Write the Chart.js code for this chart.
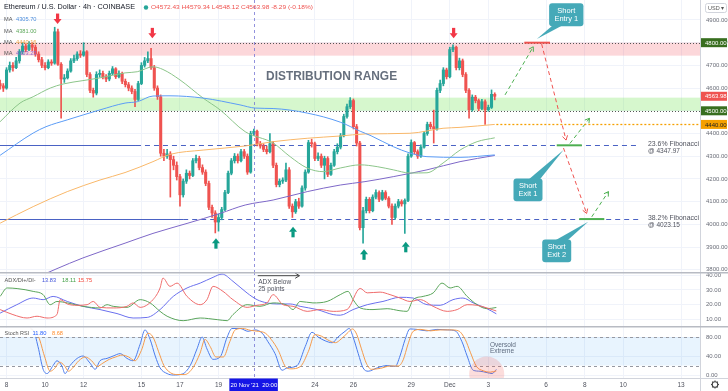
<!DOCTYPE html>
<html><head><meta charset="utf-8">
<script src="https://cdn.jsdelivr.net/npm/chart.js@4.4.1/dist/chart.umd.min.js"></script>
<style>
html,body{margin:0;padding:0;background:#fff;}
#wrap{position:relative;width:728px;height:391px;overflow:hidden;background:#fff;}
canvas{position:absolute;left:0;}
</style></head><body>
<div id="wrap">
<canvas id="c1" width="728" height="272" style="top:0"></canvas>
<canvas id="c2" width="728" height="54" style="top:272px"></canvas>
<canvas id="c3" width="728" height="65" style="top:326px"></canvas>
</div>
<script>
// ---------------- DATA ----------------
// 4h candles, index 0 = 7 Nov 16:00, last = 3 Dec 08:00
const firstOpen = 4620;
const closes = [4610,4600,4680,4700,4690,4720,4760,4785,4770,4790,
4780,4750,4725,4700,4690,4715,4710,4848,4705,4640,
4645,4675,4720,4730,4750,4745,4760,4660,4590,4578,
4660,4665,4650,4640,4665,4685,4650,4665,4630,4615,
4600,4585,4550,4620,4700,4720,4730,4690,4600,4562,
4313,4300,4310,4285,4260,4210,4130,4190,4225,4215,
4280,4290,4250,4230,4180,4075,4050,4010,4030,4065,
4140,4225,4280,4300,4280,4320,4300,4230,4400,4410,
4355,4345,4330,4320,4355,4260,4175,4190,4195,4240,
4080,4055,4100,4080,4160,4230,4360,4355,4290,4300,
4260,4290,4220,4260,4320,4340,4390,4475,4518,4545,
4430,4358,3985,4060,4110,4060,4120,4140,4110,4140,
4115,4080,4030,4080,4100,4090,4105,4300,4360,4320,
4300,4340,4400,4440,4430,4420,4590,4620,4680,4650,
4770,4780,4690,4720,4660,4590,4505,4560,4545,4510,
4540,4505,4515,4572.43,4563.98];
const highs = [4635,4620,4690,4715,4712,4735,4770,4800,4795,4805,
4800,4790,4760,4735,4712,4725,4725,4868,4860,4712,
4660,4685,4730,4745,4760,4765,4800,4765,4668,4600,
4672,4680,4675,4660,4675,4695,4690,4676,4670,4640,
4625,4610,4595,4630,4712,4735,4760,4775,4700,4610,
4570,4330,4330,4320,4300,4275,4220,4200,4240,4235,
4290,4305,4300,4262,4240,4190,4085,4060,4045,4075,
4150,4235,4290,4312,4310,4330,4330,4310,4410,4420,
4415,4365,4355,4345,4400,4365,4270,4200,4205,4270,
4250,4090,4110,4115,4170,4240,4370,4375,4362,4315,
4310,4300,4298,4270,4330,4355,4400,4485,4530,4558,
4552,4440,4365,4075,4120,4118,4130,4152,4148,4150,
4148,4122,4090,4090,4110,4108,4112,4310,4372,4365,
4328,4350,4410,4450,4450,4503,4600,4635,4690,4688,
4780,4790,4785,4732,4728,4668,4598,4570,4568,4552,
4550,4548,4525,4592,4579.34];
const lows = [4595,4585,4595,4670,4675,4685,4710,4750,4760,4765,
4765,4740,4715,4690,4680,4685,4700,4705,4700,4468,
4625,4640,4670,4712,4722,4735,4740,4650,4580,4560,
4570,4648,4640,4628,4632,4658,4642,4645,4620,4605,
4588,4575,4518,4545,4615,4692,4712,4682,4590,4550,
4300,4280,4290,4120,4240,4195,4080,4120,4180,4200,
4210,4270,4240,4220,4170,4065,4030,3962,3970,4020,
4060,4135,4218,4270,4270,4275,4290,4220,4225,4390,
4345,4335,4320,4310,4315,4250,4165,4165,4180,4188,
4070,4030,4048,4070,4075,4150,4225,4340,4280,4280,
4250,4200,4210,4215,4255,4310,4332,4385,4468,4510,
4420,4345,3975,3917,4050,4050,4055,4112,4100,4105,
4108,4072,4000,4022,4072,4080,3960,4100,4295,4310,
4290,4295,4335,4392,4420,4358,4415,4580,4610,4640,
4645,4760,4680,4680,4650,4580,4468,4498,4535,4500,
4505,4440,4498,4510,4548.12];

// moving averages [candle index, price]
const maBlue = [[0,4304],[10.3,4402],[14.3,4430],[20.9,4460],[31.1,4504],[38.9,4534],[42.7,4540],[47.6,4565],[52.9,4566],[63.2,4556],[74.7,4526],[79.4,4512],[85,4510],[95.6,4490],[105.9,4450],[112.1,4410],[115.5,4390],[122.4,4342],[127.6,4314],[132.9,4298],[143.2,4295],[154,4305.7]];
const maGreen = [[0,4452],[6.2,4534],[10.3,4562],[15.6,4600],[19.6,4618],[25.8,4633],[31.1,4645],[38.9,4667],[42.7,4672],[47.6,4694],[50.7,4682],[56,4636],[63.2,4556],[68.5,4504],[76.3,4408],[85,4358],[90.3,4298],[95.6,4248],[100.6,4232],[105.9,4248],[112.1,4262],[117.4,4254],[122.4,4240],[127.6,4226],[132.9,4227],[137.9,4270],[143.2,4327],[148.5,4364],[154,4381]];
const maOrange = [[0,4005],[10.3,4078],[20.9,4144],[31.1,4195],[38.9,4228],[47.6,4276],[52.9,4308],[63.2,4327],[76.3,4345],[85,4364],[95.6,4379],[105.9,4389],[113.6,4398],[127.6,4401],[137.9,4423],[143.2,4427],[154,4440]];
const maPurple = [[14,3782],[17.4,3803],[25.8,3852],[38.9,3917],[47.6,3960],[58.2,4004],[68.5,4048],[76.3,4085],[85,4107],[95.6,4144],[105.9,4173],[113.6,4188],[122.4,4210],[132.9,4240],[143.2,4276],[154,4303.23]];
const maLegend = ['4305.70','4381.00','4440.16','4303.23'];

// ADX / DI+ / DI-
const adx = [[0,14.3],[5.2,20],[10.3,24.5],[13.4,23.4],[16.5,25.6],[20.9,22.2],[25.8,18.9],[31.1,16.7],[36.4,14],[41.4,11],[45.8,11.4],[49.8,16.7],[53.9,25.6],[58.2,31.3],[62.3,34.6],[66.3,38.5],[69.1,40.7],[72.5,35.8],[76.9,27.9],[80,23.4],[83.1,21.2],[86.2,20.5],[90.3,20.5],[93.4,18.9],[98.7,16.7],[103.7,13.3],[105.9,12.9],[109.9,16.7],[114.3,20],[119.2,22.2],[124.5,25],[128.6,24.5],[132.9,20],[137,19.6],[141,23.4],[144.1,24.5],[147.3,21.2],[151.6,17.3],[154.5,13.83]];
const diPlus = [[0,25.6],[2.2,31.3],[5.3,30.9],[10.3,29],[13.4,26.8],[15.6,20],[17.7,22.2],[20.9,21.2],[25.8,18.9],[31.1,17.8],[33.3,20],[35.2,18.9],[39.5,18.2],[43.6,23.4],[46.7,21.2],[49.8,15.5],[52,12.2],[57,9.2],[62.3,11],[67.6,9.9],[70.7,9.2],[72.5,13.3],[76.9,20],[80.9,18.9],[85,21.2],[89.4,19.6],[91.2,16.7],[93.4,22.2],[97.4,21.2],[101.8,22.2],[105.9,26.8],[108.3,29],[109.9,23.4],[112.1,17.8],[116.1,16.7],[120.5,17.3],[124.5,15.9],[126.7,15.5],[128.6,23.4],[131.7,25.6],[134.8,27.9],[137.6,34.6],[140.1,31.3],[142.3,32.4],[145.4,25.6],[148.5,20],[151.6,17.3],[154.5,18.11]];
const diMinus = [[0,16.7],[4,13.3],[8.4,11],[11.5,12.2],[14.6,11],[17.7,13.3],[18.7,23.4],[20.9,20.5],[24,19.6],[27.1,20],[29,22.2],[31.1,18.2],[35.2,17.8],[39.5,18.9],[41.4,21.2],[43.6,18.2],[47.6,23.4],[49.8,31.3],[50.7,38],[52.9,32.4],[55.1,34.6],[58.2,25.6],[62.3,20],[64.4,23.4],[66.3,32.4],[69.4,29],[72.5,23.4],[76.9,18.2],[80,19.6],[83.1,21.2],[85,26.8],[88.1,20],[91.2,18.9],[95.6,15.5],[99.6,16.7],[103.7,15.5],[108,16.7],[112.1,31],[114.3,28],[118.3,28.5],[121.4,26.8],[124.5,24.5],[127.6,22.2],[130.8,23.4],[134.8,18.9],[139.2,15.5],[142.3,16.7],[145.4,20],[148.5,19.6],[151.6,17.8],[154.5,15.75]];
const adxLegend = ['13.83','18.11','15.75'];

// Stoch RSI %K / %D
const stochK = [[9.5,97],[10.3,95],[11.8,60],[13.4,12],[14.6,3],[16.5,20],[17.7,30],[19.3,18],[20.2,3],[21.8,20],[24,35],[25.8,40],[28,25],[29.6,12],[31.1,30],[33.3,35],[35.2,40],[37.4,45],[39.5,35],[41.4,30],[43.6,65],[45.1,95],[46.7,75],[48.3,40],[49.8,15],[52,3],[53.9,0],[56.7,2],[59.2,20],[61.3,55],[62.9,80],[64.4,55],[66.3,33],[68.5,38],[70.7,80],[72.2,98],[74.7,98],[77.2,92],[79.4,95],[81.6,88],[83.4,70],[85.6,45],[87.8,10],[89.4,15],[92.5,20],[95,60],[97.1,90],[99,80],[101.2,72],[103.4,68],[105.2,80],[107.4,92],[108.7,98],[109.9,80],[111.5,45],[113,15],[114.6,8],[117.4,15],[120.5,20],[123,18],[124.5,40],[126.1,75],[127.6,97],[129.8,96],[132.9,93],[136,96],[139.2,95],[141.7,93],[143.8,70],[145.4,40],[147.3,10],[149.4,8],[151.6,5],[153.2,3],[154.5,11.8]];
const stochD = [[9.5,98],[12,80],[13.8,40],[15.6,8],[17,14],[18.5,27],[20,20],[21.3,8],[22.5,14],[24.5,30],[26.5,38],[28.5,30],[30.2,18],[32,25],[34,33],[36,38],[38,42],[40,38],[42,30],[44,52],[46,88],[47.6,80],[49.3,50],[51,20],[53,5],[55,1],[57.5,1],[60,15],[62.2,45],[63.8,75],[65.4,60],[67.2,38],[69.5,38],[71.5,70],[73.2,95],[75.5,98],[78,94],[80.4,92],[82.6,88],[84.4,75],[86.6,52],[88.8,18],[90.5,13],[93.5,18],[96,50],[98,85],[100,82],[102,74],[104.4,68],[106.2,76],[108.4,90],[109.7,97],[111,86],[112.5,55],[114,25],[115.6,12],[118.4,14],[121.5,19],[124,19],[125.5,32],[127,65],[128.6,92],[131,96],[134,93],[137,95],[140,95],[142.7,93],[144.8,75],[146.4,48],[148.3,18],[150.4,9],[152.6,6],[154.5,8.68]];
const stochLegend = ['11.80','8.68'];

// time axis (candle index of day starts) and labels
const timeTicks = [2,14,26,44,56,68,98,110,128,140,152,170,182,194,212];
const timeLabels = ['8','10','12','15','17','19','24','26','29','Dec','3','6','8','10','13'];
const cursorIndex = 79;           // 20 Nov '21 20:00
const cursorLabel = "20 Nov '21  20:00";

const priceTicks = [3800,3900,4000,4100,4200,4300,4400,4500,4600,4700,4800,4900];
const adxTicks = [10,20,30,40];
const stochTicks = [0,40,80];

// levels / zones
const resistanceZone = [4743, 4800];
const supportZone = [4500, 4558];
const maLevel = 4440;
const lastPrice = 4563.98;
const fibLevels = [4347.97, 4023.15];
const fibNames = ['23.6% Fibonacci', '38.2% Fibonacci'];
const fibSolidEnd = [42.3, 57];
const fibDashEnd = 199.2;

// trade plan projections [index, price]
const planPaths = [
  [[157.2,4570],[166,4782]],
  [[168.6,4794],[176.2,4371]],
  [[177.4,4356],[183.5,4467]],
  [[175.4,4336],[182.6,4048]],
  [[184.2,4033],[189.4,4144]]
];
const planUp = [true,false,true,false,true];
const targets = [[163.2,171.2,4800],[173.3,181.1,4347.97],[180.3,188.1,4023.15]];
const callouts = [
  {lines:['Short','Entry 1'], tip:[167.1,4816]},
  {lines:['Short','Exit 1'], tip:[175.4,4327]},
  {lines:['Short','Exit 2'], tip:[183.1,4011]}
];
const topMarks = [[17.9,4882],[47.4,4819],[141.2,4819]];
const bottomMarks = [[67.2,3939],[91.2,3989],[113.3,3890],[126.3,3923]];

// ---------------- RENDER ----------------
const FONT = "'Liberation Sans', Arial, sans-serif";
const UP = '#26a69a', DOWN = '#ef5350';
const X_MIN = -0.03, X_MAX = 217.9;
const opens = closes.map((c,i)=> i===0 ? firstOpen : closes[i-1]);
const idx = closes.map((_,i)=>i);
const toPts = a => a.map(([x,y])=>({x,y}));
const candleCol = i => (i==null || closes[i] >= opens[i]) ? UP : DOWN;

function xScale(show){
  return {type:'linear', min:X_MIN, max:X_MAX, offset:false,
    grid:{color:'#f0f3fa', drawTicks:false, offset:false},
    border:{display:false},
    afterBuildTicks: s => { s.ticks = timeTicks.map(v=>({value:v})); },
    ticks:{display:show, autoSkip:false, maxRotation:0, padding:3,
      font:{size:6.5, family:FONT}, color:'#50535e',
      callback:(v,i)=> timeLabels[i]},
    afterFit: s => { s.height = show ? 13 : 0; s.paddingLeft=0; s.paddingRight=0; }
  };
}
function yScale(min,max,ticks){
  return {position:'right', min, max, beginAtZero:false,
    grid:{color:'#f0f3fa', drawTicks:false},
    border:{display:true, color:'#d1d4dc'},
    afterBuildTicks: s => { s.ticks = ticks.map(v=>({value:v})); },
    ticks:{padding:6, autoSkip:false, font:{size:6, family:FONT}, color:'#6a6d78',
      callback:v=>Number(v).toFixed(2)},
    afterFit: s => { s.width = 28; s.paddingTop=0; s.paddingBottom=0; }
  };
}
const common = {responsive:false, animation:false, events:[], devicePixelRatio:1,
  layout:{padding:0}};

function fitText(ctx, text, x, y, w){
  const m = ctx.measureText(text).width || 1;
  ctx.save(); ctx.translate(x,y); ctx.scale(w/m,1); ctx.textAlign='left'; ctx.fillText(text,0,0); ctx.restore();
}
function hline(ctx, x1, x2, y, color, width, dash){
  ctx.save(); ctx.strokeStyle=color; ctx.lineWidth=width; ctx.setLineDash(dash||[]);
  ctx.beginPath(); ctx.moveTo(x1,y); ctx.lineTo(x2,y); ctx.stroke(); ctx.restore();
}
function chevron(ctx, x1,y1,x2,y2,size,color){
  const a=Math.atan2(y2-y1,x2-x1);
  ctx.save(); ctx.strokeStyle=color; ctx.lineWidth=1; ctx.setLineDash([]);
  ctx.beginPath();
  ctx.moveTo(x2-size*Math.cos(a-0.55), y2-size*Math.sin(a-0.55));
  ctx.lineTo(x2,y2);
  ctx.lineTo(x2-size*Math.cos(a+0.55), y2-size*Math.sin(a+0.55));
  ctx.stroke(); ctx.restore();
}
function cursorLine(chart){
  const {ctx, chartArea:a, scales:{x}} = chart;
  const cx = Math.round(x.getPixelForValue(cursorIndex))+0.5;
  ctx.save(); ctx.strokeStyle='rgba(110,110,210,0.75)'; ctx.lineWidth=1; ctx.setLineDash([3,3]);
  ctx.beginPath(); ctx.moveTo(cx,a.top); ctx.lineTo(cx,a.bottom); ctx.stroke(); ctx.restore();
}
function roundRect(ctx,x,y,w,h,r){
  ctx.beginPath(); ctx.moveTo(x+r,y); ctx.lineTo(x+w-r,y); ctx.quadraticCurveTo(x+w,y,x+w,y+r);
  ctx.lineTo(x+w,y+h-r); ctx.quadraticCurveTo(x+w,y+h,x+w-r,y+h); ctx.lineTo(x+r,y+h);
  ctx.quadraticCurveTo(x,y+h,x,y+h-r); ctx.lineTo(x,y+r); ctx.quadraticCurveTo(x,y,x+r,y); ctx.closePath();
}

// ---- main pane plugin ----
const mainPlugin = {
  id:'mainPane',
  beforeDatasetsDraw(chart){
    const {ctx, chartArea:a, scales:{x,y}} = chart;
    ctx.save(); ctx.beginPath(); ctx.rect(a.left,a.top,a.right-a.left,a.bottom-a.top); ctx.clip();
    // zones
    let y1=y.getPixelForValue(resistanceZone[1]), y2=y.getPixelForValue(resistanceZone[0]);
    ctx.fillStyle='rgba(242,54,69,0.2)'; ctx.fillRect(a.left,y1,a.right-a.left,y2-y1);
    y1=y.getPixelForValue(supportZone[1]); y2=y.getPixelForValue(supportZone[0]);
    ctx.fillStyle='rgba(120,230,90,0.3)'; ctx.fillRect(a.left,y1,a.right-a.left,y2-y1);
    hline(ctx,a.left,a.right,Math.round(y.getPixelForValue(resistanceZone[1]))+0.5,'#555',1,[1,2]);
    hline(ctx,a.left,a.right,Math.round(y.getPixelForValue(supportZone[0]))+0.5,'#555',1,[1,2]);
    // fib lines
    fibLevels.forEach((lv,k)=>{
      const yy=Math.round(y.getPixelForValue(lv))+0.5;
      hline(ctx,a.left,x.getPixelForValue(fibSolidEnd[k]),yy,'#4a62c4',1.2,[]);
      hline(ctx,x.getPixelForValue(fibSolidEnd[k]),x.getPixelForValue(fibDashEnd),yy,'#4a62c4',1,[5,4]);
    });
    ctx.restore();
  },
  afterDatasetsDraw(chart){
    const {ctx, chartArea:a, scales:{x,y}} = chart;
    ctx.save(); ctx.beginPath(); ctx.rect(a.left,a.top,a.right-a.left,a.bottom-a.top); ctx.clip();
    // orange MA level
    hline(ctx,x.getPixelForValue(154.5),a.right,Math.round(y.getPixelForValue(maLevel))+0.5,'#f5a000',1.3,[2,2]);
    // target bars
    targets.forEach((t,k)=>{
      hline(ctx,x.getPixelForValue(t[0]),x.getPixelForValue(t[1]),y.getPixelForValue(t[2]),k===0?'#ef5350':'#4caf50',2,[]);
    });
    // plan arrowheads
    planPaths.forEach((p,k)=>{
      const [p1,p2]=p;
      chevron(ctx,x.getPixelForValue(p1[0]),y.getPixelForValue(p1[1]),x.getPixelForValue(p2[0]),y.getPixelForValue(p2[1]),5,planUp[k]?'#4caf50':'#ef5350');
    });
    // top / bottom markers
    topMarks.forEach(([i,v])=>{
      const cx=x.getPixelForValue(i), ty=y.getPixelForValue(v);
      ctx.fillStyle='#f23645';
      ctx.fillRect(cx-1.6,ty-10.5,3.2,6);
      ctx.beginPath(); ctx.moveTo(cx-4,ty-5); ctx.lineTo(cx+4,ty-5); ctx.lineTo(cx,ty); ctx.closePath(); ctx.fill();
    });
    bottomMarks.forEach(([i,v])=>{
      const cx=x.getPixelForValue(i), ty=y.getPixelForValue(v);
      ctx.fillStyle='#089981';
      ctx.fillRect(cx-1.6,ty+4.5,3.2,6);
      ctx.beginPath(); ctx.moveTo(cx-4,ty+5); ctx.lineTo(cx+4,ty+5); ctx.lineTo(cx,ty); ctx.closePath(); ctx.fill();
    });
    // fib labels
    ctx.fillStyle='#50535e'; ctx.font='7px '+FONT; ctx.textBaseline='middle';
    fibLevels.forEach((lv,k)=>{
      const yy=y.getPixelForValue(lv), xx=x.getPixelForValue(201.7);
      fitText(ctx,fibNames[k],xx,yy-1.5,51);
      fitText(ctx,'@ '+lv.toFixed(2),xx,yy+5.5,32);
    });
    // distribution range
    ctx.fillStyle='#666f7d'; ctx.font='bold 13px '+FONT; ctx.textBaseline='middle';
    fitText(ctx,'DISTRIBUTION RANGE',x.getPixelForValue(103.2)-65.5,y.getPixelForValue(4653),131);
    // callouts
    const boxes=[{dx:12.3,dy:-35.7,bx:[16.3,26.3],by:-14},{dx:-50,dy:28.3,bx:[-34.3,-23.3],by:29},{dx:-46,dy:17.6,bx:[-32.3,-20.3],by:18.3}];
    callouts.forEach((c,k)=>{
      const tx=x.getPixelForValue(c.tip[0]), ty=y.getPixelForValue(c.tip[1]), b=boxes[k];
      ctx.fillStyle='#45a9b8';
      roundRect(ctx,tx+b.dx,ty+b.dy,29+(k===0?5.3:0),22.8,3); ctx.fill();
      ctx.beginPath(); ctx.moveTo(tx+b.bx[0],ty+b.by); ctx.lineTo(tx+b.bx[1],ty+b.by); ctx.lineTo(tx,ty); ctx.closePath(); ctx.fill();
      ctx.fillStyle='#fff'; ctx.font='7.5px '+FONT; ctx.textAlign='center'; ctx.textBaseline='middle';
      const w=29+(k===0?5.3:0), cx=tx+b.dx+w/2, cy=ty+b.dy+11.4;
      ctx.fillText(c.lines[0],cx,cy-3.8); ctx.fillText(c.lines[1],cx,cy+3.8);
      ctx.textAlign='left';
    });
    ctx.restore();
    cursorLine(chart);
  },
  afterDraw(chart){
    const {ctx, scales:{y}} = chart;
    ctx.save();
    // axis tags
    const tags=[[4800,'#386e1f','#fff'],[lastPrice,'#ef5350','#fff'],[4500,'#386e1f','#fff'],[maLevel,'#f5a000','#222']];
    tags.forEach(([v,bg,fg])=>{
      const yy=y.getPixelForValue(v);
      ctx.fillStyle=bg; ctx.fillRect(701,yy-4.5,26,9);
      ctx.fillStyle=fg; ctx.font='6px '+FONT; ctx.textBaseline='middle'; ctx.textAlign='left';
      ctx.fillText(v.toFixed(2),705,yy+0.5);
    });
    // header
    ctx.textBaseline='middle'; ctx.textAlign='left';
    ctx.fillStyle='#131722'; ctx.font='7px '+FONT;
    fitText(ctx,'Ethereum / U.S. Dollar · 4h · COINBASE',4,7.5,131);
    ctx.fillStyle='#26a69a'; ctx.beginPath(); ctx.arc(146,7.5,2.2,0,Math.PI*2); ctx.fill();
    ctx.fillStyle='#ef5350'; ctx.font='6px '+FONT;
    fitText(ctx,'O4572.43 H4579.34 L4548.12 C4563.98 -8.29 (-0.18%)',151,7.5,162);
    const maCols=['#4f8fdc','#5ea85b','#f0a040','#8e63c8'];
    [19.5,31,42.3,53.3].forEach((yy,k)=>{
      ctx.fillStyle='#555'; ctx.font='6px '+FONT; fitText(ctx,'MA',4,yy,8.5);
      ctx.fillStyle=maCols[k]; fitText(ctx,maLegend[k],16,yy,20.5);
    });
    // USD button
    ctx.strokeStyle='#d1d4dc'; ctx.lineWidth=1; roundRect(ctx,705.5,3.5,21,9,2); ctx.stroke();
    ctx.fillStyle='#555'; ctx.font='5.5px '+FONT; ctx.fillText('USD ▾',708,8.2);
    ctx.restore();
  }
};

const planDatasets = planPaths.map((p,k)=>({type:'line', data:toPts(p), borderColor:planUp[k]?'#4caf50':'#ef5350',
  borderWidth:1, borderDash:[4,3], pointRadius:0, order:0}));
const maDatasets = [[maBlue,'#5b9cf6'],[maGreen,'#8cc58a'],[maOrange,'#f9b86a'],[maPurple,'#7e68c8']].map(([d,c])=>({
  type:'line', data:toPts(d), borderColor:c, borderWidth:1, pointRadius:0, cubicInterpolationMode:'monotone', order:1}));

new Chart(document.getElementById('c1'), {
  type:'bar',
  data:{datasets:[
    ...planDatasets,
    ...maDatasets,
    {type:'bar', data: idx.map(i=>({x:i,y:[opens[i],closes[i]]})), backgroundColor:c=>candleCol(c.dataIndex),
      barThickness:2.4, grouped:false, borderWidth:0, minBarLength:1, order:2},
    {type:'bar', data: idx.map(i=>({x:i,y:[lows[i],highs[i]]})), backgroundColor:c=>candleCol(c.dataIndex),
      barThickness:1, grouped:false, borderWidth:0, minBarLength:1, order:3}
  ]},
  options:{...common,
    plugins:{legend:{display:false}, tooltip:{enabled:false}},
    scales:{x:xScale(false), y:yScale(3790,4988,priceTicks)}},
  plugins:[mainPlugin]
});

// ---- ADX pane ----
const adxPlugin = {
  id:'adxPane',
  afterDatasetsDraw(chart){
    const {ctx, scales:{x,y}} = chart;
    cursorLine(chart);
    ctx.save();
    const x1=x.getPixelForValue(80.2), x2=x.getPixelForValue(93.2), yy=y.getPixelForValue(39.6);
    hline(ctx,x1,x2,yy,'#444',1,[]); chevron(ctx,x1,yy,x2,yy,5,'#444');
    ctx.fillStyle='#50535e'; ctx.font='6.5px '+FONT; ctx.textBaseline='middle';
    ctx.fillText('ADX Below',x1+0.5,y.getPixelForValue(35)); ctx.fillText('25 points',x1+0.5,y.getPixelForValue(30.3));
    ctx.restore();
  },
  afterDraw(chart){
    const ctx=chart.ctx; ctx.save();
    ctx.fillStyle='#b8bbc3'; ctx.fillRect(0,0,728,1.5);
    ctx.textBaseline='middle'; ctx.font='6px '+FONT;
    ctx.fillStyle='#555'; fitText(ctx,'ADX/DI+/DI-',4.6,8,31);
    const cols=['#3f51d8','#43a047','#f44336'], xs=[42,62,78];
    adxLegend.forEach((t,k)=>{ctx.fillStyle=cols[k]; fitText(ctx,t,xs[k],8,14);});
    ctx.restore();
  }
};
new Chart(document.getElementById('c2'), {
  type:'line',
  data:{datasets:[
    {data:toPts(diMinus), borderColor:'#ef6b6b', borderWidth:1, pointRadius:0, cubicInterpolationMode:'monotone'},
    {data:toPts(diPlus), borderColor:'#5aa55a', borderWidth:1, pointRadius:0, cubicInterpolationMode:'monotone'},
    {data:toPts(adx), borderColor:'#6a70ee', borderWidth:1, pointRadius:0, cubicInterpolationMode:'monotone'}
  ]},
  options:{...common, plugins:{legend:{display:false}, tooltip:{enabled:false}},
    scales:{x:xScale(false), y:yScale(5.6,42.1,adxTicks)}},
  plugins:[adxPlugin]
});

// ---- Stoch RSI pane ----
const stochPlugin = {
  id:'stochPane',
  beforeDatasetsDraw(chart){
    const {ctx, chartArea:a, scales:{y}} = chart;
    const y80=y.getPixelForValue(80), y20=y.getPixelForValue(20);
    ctx.save();
    ctx.fillStyle='rgba(33,150,243,0.1)'; ctx.fillRect(a.left,y80,a.right-a.left,y20-y80);
    hline(ctx,a.left,a.right,Math.round(y80)+0.5,'#9598a1',1,[3,3]);
    hline(ctx,a.left,a.right,Math.round(y20)+0.5,'#9598a1',1,[3,3]);
    ctx.restore();
  },
  afterDatasetsDraw(chart){
    const {ctx, chartArea:a, scales:{x,y}} = chart;
    ctx.save(); ctx.beginPath(); ctx.rect(a.left,a.top,a.right-a.left,a.bottom-a.top); ctx.clip();
    ctx.fillStyle='rgba(239,83,80,0.2)';
    ctx.beginPath(); ctx.arc(x.getPixelForValue(151.5),y.getPixelForValue(2),17.5,0,Math.PI*2); ctx.fill();
    ctx.fillStyle='#5d6a7e'; ctx.font='6.5px '+FONT; ctx.textBaseline='middle';
    ctx.fillText('Oversold',x.getPixelForValue(152.5),y.getPixelForValue(63));
    ctx.fillText('Extreme',x.getPixelForValue(152.5),y.getPixelForValue(49.5));
    ctx.restore();
    cursorLine(chart);
    // legend
    ctx.save();
    ctx.fillStyle='rgba(255,255,255,0.9)'; ctx.fillRect(1,2,64,9);
    ctx.textBaseline='middle'; ctx.font='6px '+FONT;
    ctx.fillStyle='#555'; fitText(ctx,'Stoch RSI',4.6,7,24.5);
    ctx.fillStyle='#2962ff'; fitText(ctx,stochLegend[0],32.5,7,14);
    ctx.fillStyle='#ff8c2b'; fitText(ctx,stochLegend[1],52,7,11);
    ctx.restore();
  },
  afterDraw(chart){
    const {ctx, chartArea:a, scales:{x}} = chart; ctx.save();
    ctx.fillStyle='#b8bbc3'; ctx.fillRect(0,0,728,1.5);
    ctx.fillStyle='#d1d4dc'; ctx.fillRect(0,a.bottom,728,1); ctx.fillRect(700,a.bottom,1,13);
    const cx=x.getPixelForValue(cursorIndex);
    ctx.fillStyle='#1515e6'; ctx.fillRect(cx-24.5,a.bottom+0.5,48.5,12.5);
    ctx.fillStyle='#fff'; ctx.font='6px '+FONT; ctx.textBaseline='middle'; ctx.textAlign='center';
    ctx.fillText(cursorLabel,cx,a.bottom+7);
    // gear
    ctx.strokeStyle='#444'; ctx.lineWidth=1.1;
    ctx.beginPath(); ctx.arc(715,a.bottom+6.5,2.8,0,Math.PI*2); ctx.stroke();
    for(let k=0;k<8;k++){const an=k*Math.PI/4; ctx.beginPath(); ctx.moveTo(715+2.8*Math.cos(an),a.bottom+6.5+2.8*Math.sin(an)); ctx.lineTo(715+4*Math.cos(an),a.bottom+6.5+4*Math.sin(an)); ctx.stroke();}
    ctx.restore();
  }
};
new Chart(document.getElementById('c3'), {
  type:'line',
  data:{datasets:[
    {data:toPts(stochD), borderColor:'#f59a4a', borderWidth:1, pointRadius:0, cubicInterpolationMode:'monotone'},
    {data:toPts(stochK), borderColor:'#4b7bec', borderWidth:1, pointRadius:0, cubicInterpolationMode:'monotone'}
  ]},
  options:{...common, plugins:{legend:{display:false}, tooltip:{enabled:false}},
    scales:{x:xScale(true), y:yScale(-6.3,103.2,stochTicks)}},
  plugins:[stochPlugin]
});
</script>
</body></html>
